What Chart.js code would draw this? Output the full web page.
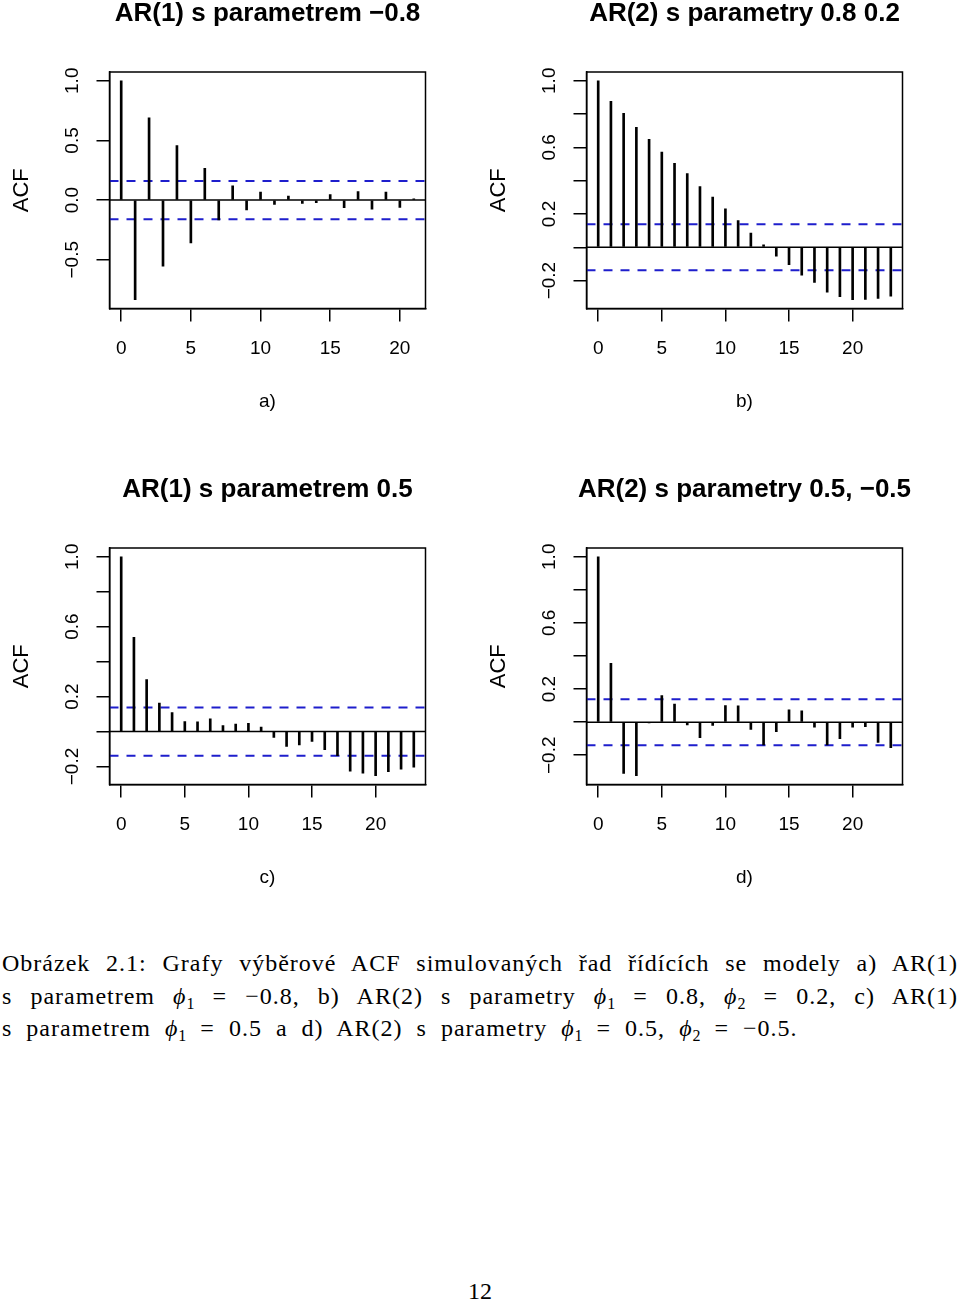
<!DOCTYPE html>
<html>
<head>
<meta charset="utf-8">
<title>ACF AR</title>
<script src="https://cdn.jsdelivr.net/npm/chart.js@4.4.1/dist/chart.umd.min.js"></script>
<style>
  body { margin: 0; background: #fff; width: 960px; height: 1304px; position: relative; overflow: hidden; }
  canvas { position: absolute; }
  .cap { position: absolute; left: 2px; width: 956px; font-family: "Liberation Serif", serif; font-size: 24px; line-height: 32.5px; color: #000; letter-spacing: 1px; word-spacing: 7px; white-space: nowrap; }
  .just { text-align: justify; text-align-last: justify; white-space: normal; }
  .s { font-size: 16px; vertical-align: -5px; line-height: 0; letter-spacing: 0; }
  .page { position: absolute; left: 0; width: 960px; text-align: center; font-family: "Liberation Serif", serif; font-size: 24px; top: 1278px; }
</style>
</head>
<body>
<canvas id="pa" width="480" height="440" style="left:0;top:0"></canvas>
<canvas id="pb" width="480" height="440" style="left:477px;top:0"></canvas>
<canvas id="pc" width="480" height="440" style="left:0;top:476px"></canvas>
<canvas id="pd" width="480" height="440" style="left:477px;top:476px"></canvas>

<div class="cap just" style="top:947px">Obrázek 2.1: Grafy výběrové ACF simulovaných řad řídících se modely a) AR(1)</div>
<div class="cap just" style="top:979.5px">s parametrem <i>ϕ</i><span class="s">1</span> = −0.8, b) AR(2) s parametry <i>ϕ</i><span class="s">1</span> = 0.8, <i>ϕ</i><span class="s">2</span> = 0.2, c) AR(1)</div>
<div class="cap" style="top:1012px">s parametrem <i>ϕ</i><span class="s">1</span> = 0.5 a d) AR(2) s parametry <i>ϕ</i><span class="s">1</span> = 0.5, <i>ϕ</i><span class="s">2</span> = −0.5.</div>
<div class="page">12</div>

<script>
// lags
var lags21 = [0, 1, 2, 3, 4, 5, 6, 7, 8, 9, 10, 11, 12, 13, 14, 15, 16, 17, 18, 19, 20, 21];
var lags23 = [0, 1, 2, 3, 4, 5, 6, 7, 8, 9, 10, 11, 12, 13, 14, 15, 16, 17, 18, 19, 20, 21, 22, 23];

// sample ACF values
var acfA = [1.0, -0.835, 0.689, -0.553, 0.456, -0.358, 0.267, -0.167, 0.12, -0.083, 0.067, -0.036,
            0.033, -0.028, -0.022, 0.047, -0.064, 0.072, -0.075, 0.067, -0.061, 0.01];
var acfB = [1.0, 0.876, 0.805, 0.721, 0.649, 0.572, 0.504, 0.442, 0.365, 0.301, 0.231, 0.161,
            0.086, 0.014, -0.054, -0.104, -0.167, -0.211, -0.269, -0.297, -0.315, -0.313, -0.307, -0.293];
var acfC = [1.0, 0.539, 0.297, 0.163, 0.108, 0.057, 0.055, 0.072, 0.034, 0.042, 0.047, 0.026,
            -0.034, -0.085, -0.076, -0.057, -0.104, -0.138, -0.227, -0.238, -0.253, -0.229, -0.216, -0.204];
var acfD = [1.0, 0.356, -0.31, -0.324, -0.005, 0.16, 0.11, -0.016, -0.094, -0.02, 0.1, 0.098,
            -0.044, -0.138, -0.058, 0.074, 0.068, -0.03, -0.138, -0.1, -0.03, -0.028, -0.122, -0.154];

// confidence bounds
var ciA = 0.16;
var ciB = 0.138;
var ciC = 0.138;
var ciD = 0.139;

// ticks
var xTicks = [0, 5, 10, 15, 20];
var yTicksA = [-0.5, 0, 0.5, 1.0];
var yLabelsA = [-0.5, 0, 0.5, 1.0];
var yTicks = [-0.2, 0, 0.2, 0.4, 0.6, 0.8, 1.0];
var yLabels = [-0.2, 0.2, 0.6, 1.0];

function fmt(v) {
    return v.toFixed(1).replace('-', '\u2212');
}

var panelText = {
    id: 'panelText',
    afterDraw: function (chart, args, opts) {
        var ctx = chart.ctx, a = chart.chartArea, y = chart.scales.y;
        ctx.save();
        ctx.strokeStyle = '#000';
        ctx.lineWidth = 1.5;
        ctx.strokeRect(a.left, a.top, a.right - a.left, a.bottom - a.top);
        ctx.fillStyle = '#000';
        ctx.textAlign = 'center';
        ctx.textBaseline = 'alphabetic';
        var cx = (a.left + a.right) / 2;
        ctx.font = 'bold 26px "Liberation Sans"';
        ctx.fillText(opts.title, cx, 21);
        ctx.font = '19px "Liberation Sans"';
        ctx.fillText(opts.sub, cx, 407);
        opts.yLabels.forEach(function (v) {
            ctx.save();
            ctx.translate(78, y.getPixelForValue(v));
            ctx.rotate(-Math.PI / 2);
            ctx.fillText(fmt(v), 0, 0);
            ctx.restore();
        });
        ctx.font = '22px "Liberation Sans"';
        ctx.translate(28, (a.top + a.bottom) / 2);
        ctx.rotate(-Math.PI / 2);
        ctx.fillText('ACF', 0, 0);
        ctx.restore();
    }
};

function makePanel(id, title, sub, lags, acf, ci, yt, yl) {
    // R style limits: data range stretched by 4 %
    var lo = Math.min(Math.min.apply(null, acf), -ci);
    var hi = Math.max(Math.max.apply(null, acf), ci);
    var ext = (hi - lo) * 0.04;
    var L = lags[lags.length - 1];
    var xmin = -0.04 * L, xmax = L * 1.04;

    var axisGrid = {
        drawOnChartArea: false,
        drawTicks: true,
        tickLength: 13,
        color: '#000',
        lineWidth: 1.5,
        offset: false
    };

    return new Chart(document.getElementById(id), {
        type: 'bar',
        data: {
            datasets: [
                {
                    label: 'acf',
                    data: lags.map(function (l, i) { return { x: l, y: acf[i] }; }),
                    backgroundColor: '#000',
                    borderWidth: 0,
                    barThickness: 2
                },
                {
                    type: 'line',
                    label: 'zero',
                    data: [{ x: xmin, y: 0 }, { x: xmax, y: 0 }],
                    borderColor: '#000',
                    borderWidth: 1.5,
                    pointRadius: 0
                },
                {
                    type: 'line',
                    label: 'ci+',
                    data: [{ x: xmin, y: ci }, { x: xmax, y: ci }],
                    borderColor: '#1e1ecc',
                    borderWidth: 2,
                    borderDash: [9, 8],
                    pointRadius: 0
                },
                {
                    type: 'line',
                    label: 'ci-',
                    data: [{ x: xmin, y: -ci }, { x: xmax, y: -ci }],
                    borderColor: '#1e1ecc',
                    borderWidth: 2,
                    borderDash: [9, 8],
                    pointRadius: 0
                }
            ]
        },
        options: {
            responsive: false,
            animation: false,
            devicePixelRatio: 1,
            layout: { padding: { top: 72, right: 54.5, bottom: 0, left: 0 } },
            plugins: {
                legend: { display: false },
                tooltip: { enabled: false },
                panelText: { title: title, sub: sub, yLabels: yl }
            },
            scales: {
                x: {
                    type: 'linear',
                    min: xmin,
                    max: xmax,
                    offset: false,
                    grid: axisGrid,
                    border: { display: true, color: '#000', width: 1.5 },
                    ticks: {
                        color: '#000',
                        font: { family: 'Liberation Sans', size: 19, lineHeight: 1.2 },
                        padding: 16,
                        maxRotation: 0,
                        autoSkip: false,
                        callback: function (v) { return String(v); }
                    },
                    afterBuildTicks: function (s) { s.ticks = xTicks.map(function (v) { return { value: v }; }); },
                    afterFit: function (s) { s.height = 131.5; }
                },
                y: {
                    type: 'linear',
                    min: lo - ext,
                    max: hi + ext,
                    grid: axisGrid,
                    border: { display: true, color: '#000', width: 1.5 },
                    ticks: { display: false },
                    afterBuildTicks: function (s) { s.ticks = yt.map(function (v) { return { value: v }; }); },
                    afterFit: function (s) { s.width = 109.5; }
                }
            }
        },
        plugins: [panelText]
    });
}

makePanel('pa', 'AR(1) s parametrem \u22120.8', 'a)', lags21, acfA, ciA, yTicksA, yLabelsA);
makePanel('pb', 'AR(2) s parametry 0.8 0.2', 'b)', lags23, acfB, ciB, yTicks, yLabels);
makePanel('pc', 'AR(1) s parametrem 0.5', 'c)', lags23, acfC, ciC, yTicks, yLabels);
makePanel('pd', 'AR(2) s parametry 0.5, \u22120.5', 'd)', lags23, acfD, ciD, yTicks, yLabels);
</script>
</body>
</html>
